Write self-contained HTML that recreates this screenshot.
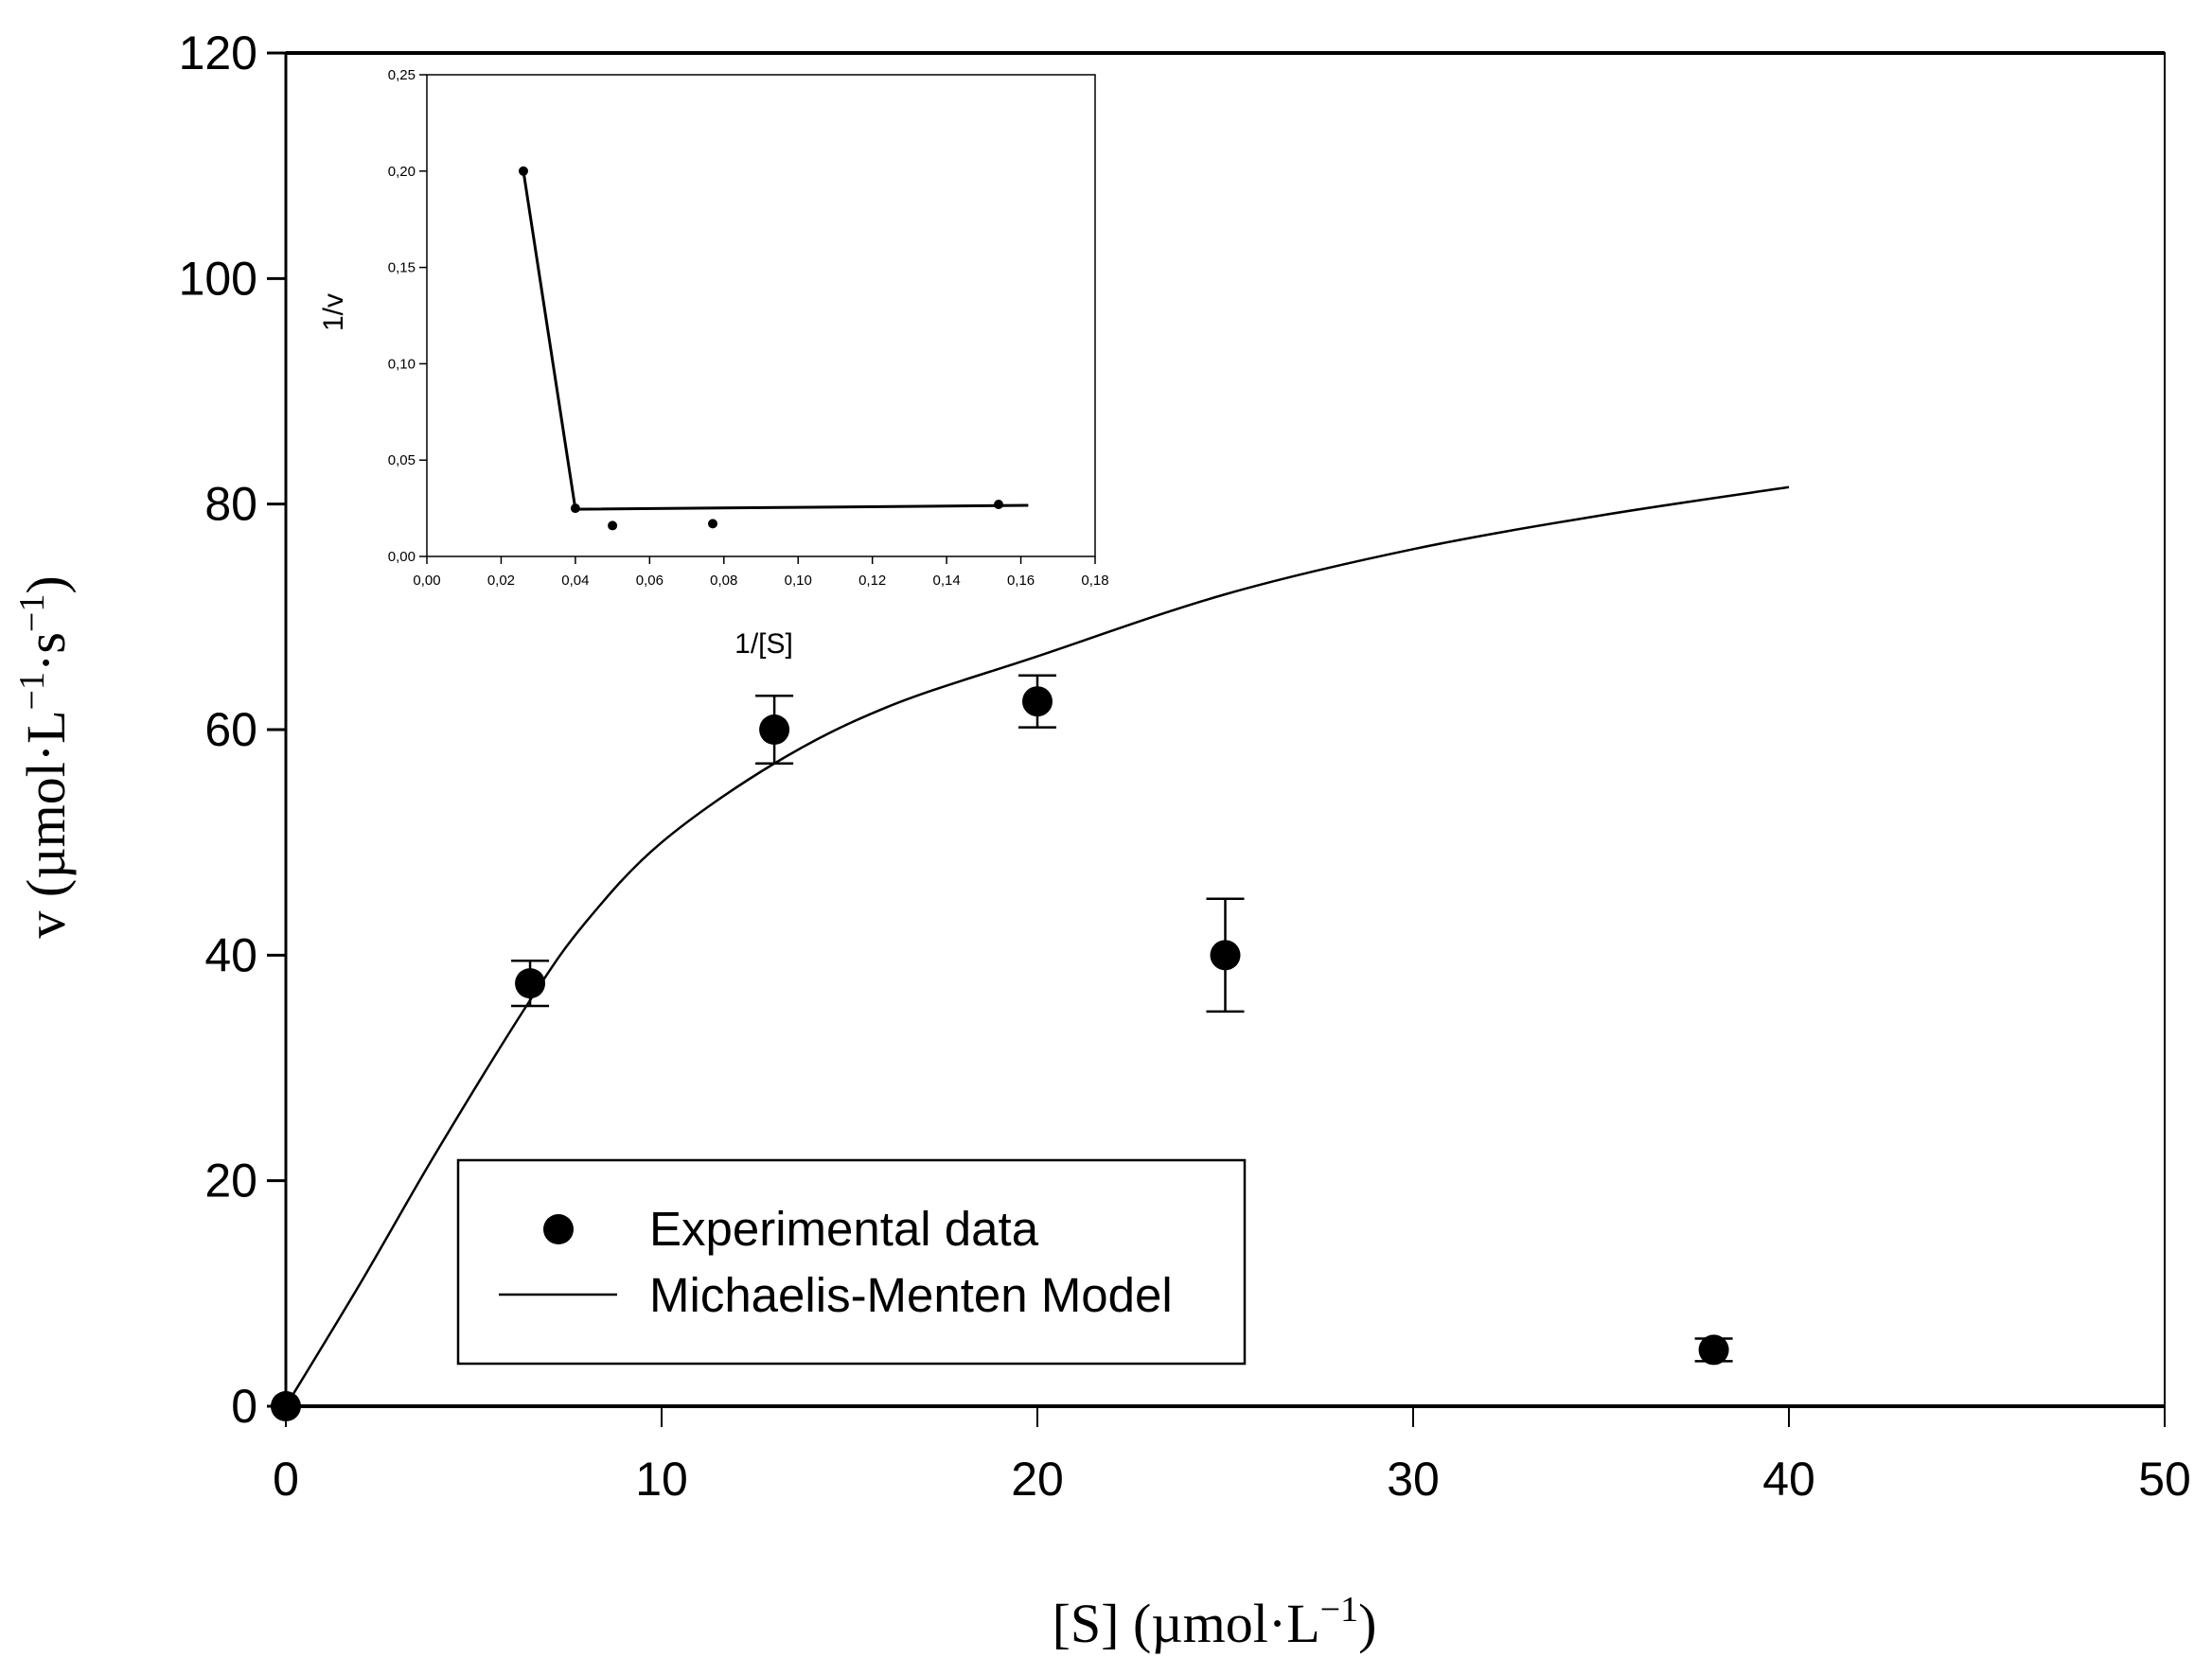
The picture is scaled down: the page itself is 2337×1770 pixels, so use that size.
<!DOCTYPE html>
<html><head><meta charset="utf-8"><style>html,body{margin:0;padding:0;background:#fff}svg{display:block}</style></head>
<body>
<svg id="s" width="2337" height="1770" viewBox="0 0 2337 1770" xmlns="http://www.w3.org/2000/svg" font-family="Liberation Sans, sans-serif"></svg>
<script>
const L=302,R=2287,T=56,B=1486;
const X=v=>L+(R-L)*v/50, Y=v=>B-(B-T)*v/120;
const iL=451,iR=1157,iT=79,iB=588;
const IX=v=>iL+(iR-iL)*v/0.18, IY=v=>iB-(iB-iT)*v/0.25;
let h='';
h+=`<rect x="${L}" y="${T}" width="${R-L}" height="${B-T}" fill="none" stroke="#000" stroke-width="2"/>`;
h+=`<line x1="${L}" y1="${T}" x2="${R}" y2="${T}" stroke="#000" stroke-width="4"/><line x1="${L}" y1="${B}" x2="${R}" y2="${B}" stroke="#000" stroke-width="4"/><line x1="${L}" y1="${T}" x2="${L}" y2="${B}" stroke="#000" stroke-width="3"/>`;
for(let v=0;v<=120;v+=20){h+=`<line x1="${L-20}" y1="${Y(v)}" x2="${L}" y2="${Y(v)}" stroke="#000" stroke-width="3"/><text x="${L-30}" y="${Y(v)+17}" font-size="50" text-anchor="end">${v}</text>`;}
for(let v=0;v<=50;v+=10){h+=`<line x1="${X(v)}" y1="${B}" x2="${X(v)}" y2="${B+22}" stroke="#000" stroke-width="2"/><text x="${X(v)}" y="${B+94}" font-size="50" text-anchor="middle">${v}</text>`;}
const cp=[[0,0],[2,11],[4,22.5],[6.5,36],[8,43],[10,50],[13,57],[16,62],[20,66.5],[25,72],[30,76],[35,79],[40,81.5]];
// catmull-rom
let d=`M${X(cp[0][0])},${Y(cp[0][1])}`;
for(let i=0;i<cp.length-1;i++){const p0=cp[Math.max(i-1,0)],p1=cp[i],p2=cp[i+1],p3=cp[Math.min(i+2,cp.length-1)];
const c1=[p1[0]+(p2[0]-p0[0])/6,p1[1]+(p2[1]-p0[1])/6],c2=[p2[0]-(p3[0]-p1[0])/6,p2[1]-(p3[1]-p1[1])/6];
d+=` C${X(c1[0])},${Y(c1[1])} ${X(c2[0])},${Y(c2[1])} ${X(p2[0])},${Y(p2[1])}`;}
h+=`<path d="${d}" fill="none" stroke="#000" stroke-width="2.5"/>`;
[[0,0,0],[6.5,37.5,2],[13,60,3],[20,62.5,2.3],[25,40,5],[38,5,1]].forEach(([x,y,e])=>{
 if(e){h+=`<line x1="${X(x)}" y1="${Y(y-e)}" x2="${X(x)}" y2="${Y(y+e)}" stroke="#000" stroke-width="2.5"/><line x1="${X(x)-20}" y1="${Y(y-e)}" x2="${X(x)+20}" y2="${Y(y-e)}" stroke="#000" stroke-width="2.5"/><line x1="${X(x)-20}" y1="${Y(y+e)}" x2="${X(x)+20}" y2="${Y(y+e)}" stroke="#000" stroke-width="2.5"/>`;}
 h+=`<circle cx="${X(x)}" cy="${Y(y)}" r="16" fill="#000"/>`;});
h+=`<rect x="484" y="1226" width="831" height="215" fill="#fff" stroke="#000" stroke-width="2.5"/>`;
h+=`<circle cx="590" cy="1299" r="16"/><text x="686" y="1316" font-size="51">Experimental data</text>`;
h+=`<line x1="527" y1="1368" x2="652" y2="1368" stroke="#000" stroke-width="2.5"/><text x="686" y="1386" font-size="51">Michaelis-Menten Model</text>`;
h+=`<rect x="${iL}" y="${iT}" width="${iR-iL}" height="${iB-iT}" fill="#fff" stroke="#000" stroke-width="1.5"/>`;
for(let i=0;i<=5;i++){const v=i*0.05;h+=`<line x1="${iL-8}" y1="${IY(v)}" x2="${iL}" y2="${IY(v)}" stroke="#000" stroke-width="1.5"/><text x="${iL-12}" y="${IY(v)+5}" font-size="15" text-anchor="end">${v.toFixed(2).replace('.',',')}</text>`;}
for(let i=0;i<=9;i++){const v=i*0.02;h+=`<line x1="${IX(v)}" y1="${iB}" x2="${IX(v)}" y2="${iB+8}" stroke="#000" stroke-width="1.5"/><text x="${IX(v)}" y="${iB+30}" font-size="15" text-anchor="middle">${v.toFixed(2).replace('.',',')}</text>`;}
h+=`<polyline points="${IX(0.026)},${IY(0.2)} ${IX(0.04)},${IY(0.0245)} ${IX(0.162)},${IY(0.0265)}" fill="none" stroke="#000" stroke-width="3"/>`;
[[0.026,0.2],[0.04,0.025],[0.05,0.016],[0.077,0.017],[0.154,0.027]].forEach(([x,y])=>{h+=`<circle cx="${IX(x)}" cy="${IY(y)}" r="5"/>`;});
h+=`<text x="807" y="690" font-size="30" text-anchor="middle">1/[S]</text>`;
h+=`<text transform="translate(362,330) rotate(-90)" font-size="30" text-anchor="middle">1/v</text>`;
h+=`<text transform="translate(68,800) rotate(-90)" font-family="Liberation Serif, serif" font-size="58" text-anchor="middle">v (µmol·L<tspan dy="-22" font-size="38">−1</tspan><tspan dy="22">·s</tspan><tspan dy="-22" font-size="38">−1</tspan><tspan dy="22">)</tspan></text>`;
h+=`<text x="1283" y="1735" font-family="Liberation Serif, serif" font-size="58" text-anchor="middle">[S] (µmol·L<tspan dy="-22" font-size="38">−1</tspan><tspan dy="22">)</tspan></text>`;
document.getElementById('s').innerHTML=h;
</script>
</body></html>
